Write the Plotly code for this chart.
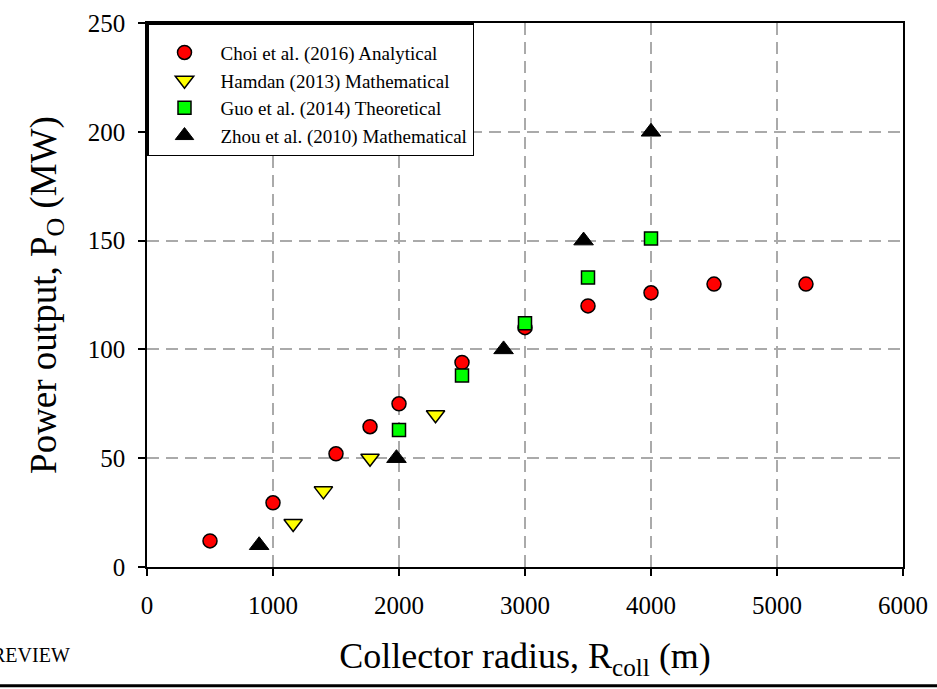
import plotly.graph_objects as go

# Data
choi_x = [500, 1000, 1500, 1770, 2000, 2500, 3000, 3500, 4000, 4500, 5230]
choi_y = [12, 29.5, 52, 64.5, 75, 94, 110, 120, 126, 130, 130]

hamdan_x = [1160, 1400, 1770, 2290]
hamdan_y = [20, 35, 50, 70]

guo_x = [2000, 2500, 3000, 3500, 4000]
guo_y = [63, 88, 112, 133, 151]

zhou_x = [890, 1980, 2830, 3465, 4000]
zhou_y = [10, 50, 100, 150, 200]

x_ticks = [0, 1000, 2000, 3000, 4000, 5000, 6000]
y_ticks = [0, 50, 100, 150, 200, 250]

FONT = "Liberation Serif, Times New Roman, serif"

fig = go.Figure()
fig.add_trace(go.Scatter(
    x=choi_x, y=choi_y, mode="markers", name="Choi et al. (2016) Analytical",
    marker=dict(symbol="circle", size=14, color="#ff0000",
                line=dict(color="black", width=1.5))))
fig.add_trace(go.Scatter(
    x=hamdan_x, y=hamdan_y, mode="markers", name="Hamdan (2013) Mathematical",
    marker=dict(symbol="triangle-down", size=16, color="#ffff00",
                line=dict(color="black", width=1.5))))
fig.add_trace(go.Scatter(
    x=guo_x, y=guo_y, mode="markers", name="Guo et al. (2014) Theoretical",
    marker=dict(symbol="square", size=13, color="#00ff00",
                line=dict(color="black", width=1.5))))
fig.add_trace(go.Scatter(
    x=zhou_x, y=zhou_y, mode="markers", name="Zhou et al. (2010) Mathematical",
    marker=dict(symbol="triangle-up", size=17, color="black",
                line=dict(color="black", width=1))))

grid = dict(showgrid=True, gridcolor="#aaaaaa", gridwidth=1.5, griddash="12px,7px")

fig.update_xaxes(
    range=[0, 6000], tickvals=x_ticks, ticktext=[str(v) for v in x_ticks],
    showline=True, linecolor="black", linewidth=1.5, mirror=True,
    ticks="outside", ticklen=7, tickwidth=1.5, tickcolor="black",
    tickfont=dict(family=FONT, size=25, color="black"),
    ticklabelstandoff=8,
    title=dict(text="Collector radius, R<sub>coll</sub> (m)",
               font=dict(family=FONT, size=36, color="black"), standoff=25),
    zeroline=False, **grid)
fig.update_yaxes(
    range=[0, 250], tickvals=y_ticks, ticktext=[str(v) for v in y_ticks],
    showline=True, linecolor="black", linewidth=1.5, mirror=True,
    ticks="outside", ticklen=7, tickwidth=1.5, tickcolor="black",
    tickfont=dict(family=FONT, size=25, color="black"),
    ticklabelstandoff=8,
    title=dict(text="Power output, P<sub>O</sub> (MW)",
               font=dict(family=FONT, size=37, color="black"), standoff=20),
    zeroline=False, **grid)

fig.update_layout(
    width=937, height=689,
    margin=dict(l=147, r=34, t=23, b=122, autoexpand=False),
    paper_bgcolor="white", plot_bgcolor="white",
    showlegend=True,
    legend=dict(x=0, y=1, xanchor="left", yanchor="top",
                bgcolor="white", bordercolor="black", borderwidth=1.5,
                font=dict(family=FONT, size=19, color="black"),
                title=dict(text=" ", font=dict(size=7)),
                itemwidth=62, entrywidth=322),
    annotations=[dict(text="REVIEW", xref="paper", yref="paper",
                      x=-0.0992, y=-0.162, xanchor="right", yanchor="middle",
                      showarrow=False,
                      font=dict(family=FONT, size=20, color="black"))],
    shapes=[dict(type="line", xref="paper", yref="paper",
                 x0=-0.2, x1=1.05, y0=-0.2185, y1=-0.2185,
                 line=dict(color="black", width=3))],
)

fig.write_html("out.html")
